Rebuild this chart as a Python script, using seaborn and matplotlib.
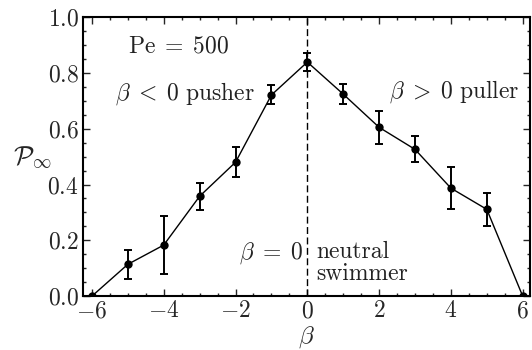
import numpy as np
import pandas as pd
import seaborn as sns
from matplotlib import pyplot as plt
from matplotlib.ticker import MultipleLocator

beta = [-6, -5, -4, -3, -2, -1, 0, 1, 2, 3, 4, 5, 6]
p_inf = [0.0, 0.114, 0.183, 0.358, 0.480, 0.721, 0.839, 0.724, 0.605, 0.526, 0.387, 0.311, 0.0]
p_err = [0.0, 0.052, 0.104, 0.048, 0.054, 0.034, 0.033, 0.036, 0.058, 0.047, 0.075, 0.058, 0.0]
x_ticks = [-6, -4, -2, 0, 2, 4, 6]
y_ticks = [0.0, 0.2, 0.4, 0.6, 0.8, 1.0]

sns.set_style('ticks')
plt.rcParams['mathtext.fontset'] = 'cm'
plt.rcParams['font.family'] = ['cmr10', 'DejaVu Serif']
plt.rcParams['axes.unicode_minus'] = False

df = pd.DataFrame({'beta': beta, 'p': p_inf, 'err': p_err})

fig = plt.figure(figsize=(5.32, 3.5), dpi=100)
ax = fig.add_axes([0.156, 0.154, 0.840, 0.797])

sns.lineplot(data=df, x='beta', y='p', color='black', lw=1.0, marker='o',
             markersize=6, markeredgewidth=0, ax=ax)
sub = df[df['err'] > 0]
ax.errorbar(sub['beta'], sub['p'], yerr=sub['err'], fmt='none', ecolor='black',
            elinewidth=1.4, capsize=2.6, capthick=1.4)
ax.axvline(0, color='black', linestyle=(0, (5, 2.5)), lw=1.0)

ax.set_xlim(-6.25, 6.2)
ax.set_ylim(0, 1.0)
ax.set_xticks(x_ticks)
ax.set_yticks(y_ticks)
ax.set_xticklabels([f'${v}$' for v in x_ticks], fontsize=17)
ax.set_yticklabels([f'${v:.1f}$' for v in y_ticks], fontsize=17)
ax.xaxis.set_minor_locator(MultipleLocator(0.5))
ax.yaxis.set_minor_locator(MultipleLocator(0.05))
ax.tick_params(which='both', direction='in', top=True, right=True, width=1.0)
ax.tick_params(which='major', length=5, pad=3)
ax.tick_params(which='minor', length=2.5)
for s in ax.spines.values():
    s.set_linewidth(1.5)
    s.set_color('black')

ax.set_xlabel(r'$\beta$', fontsize=18, labelpad=1)
ax.set_ylabel(r'$\mathcal{P}_\infty$', fontsize=19, rotation=0, ha='center', va='center')
ax.yaxis.set_label_coords(-0.112, 0.50)

kw = dict(fontsize=17, color='#222222', va='baseline')
ax.text(-3.6, 0.875, r'$\mathrm{Pe}\;=\;500$', ha='center', **kw)
ax.text(-3.4, 0.703, r'$\beta\;<\;0\ \mathrm{pusher}$', ha='center', **kw)
ax.text(5.92, 0.71, r'$\beta\;>\;0\ \mathrm{puller}$', ha='right', **kw)
ax.text(-0.12, 0.136, r'$\beta\;=\;0$', ha='right', **kw)
ax.text(0.24, 0.136, 'neutral', ha='left', **kw)
ax.text(0.24, 0.057, 'swimmer', ha='left', **kw)

plt.savefig('out.png', dpi=100)
plt.close()
